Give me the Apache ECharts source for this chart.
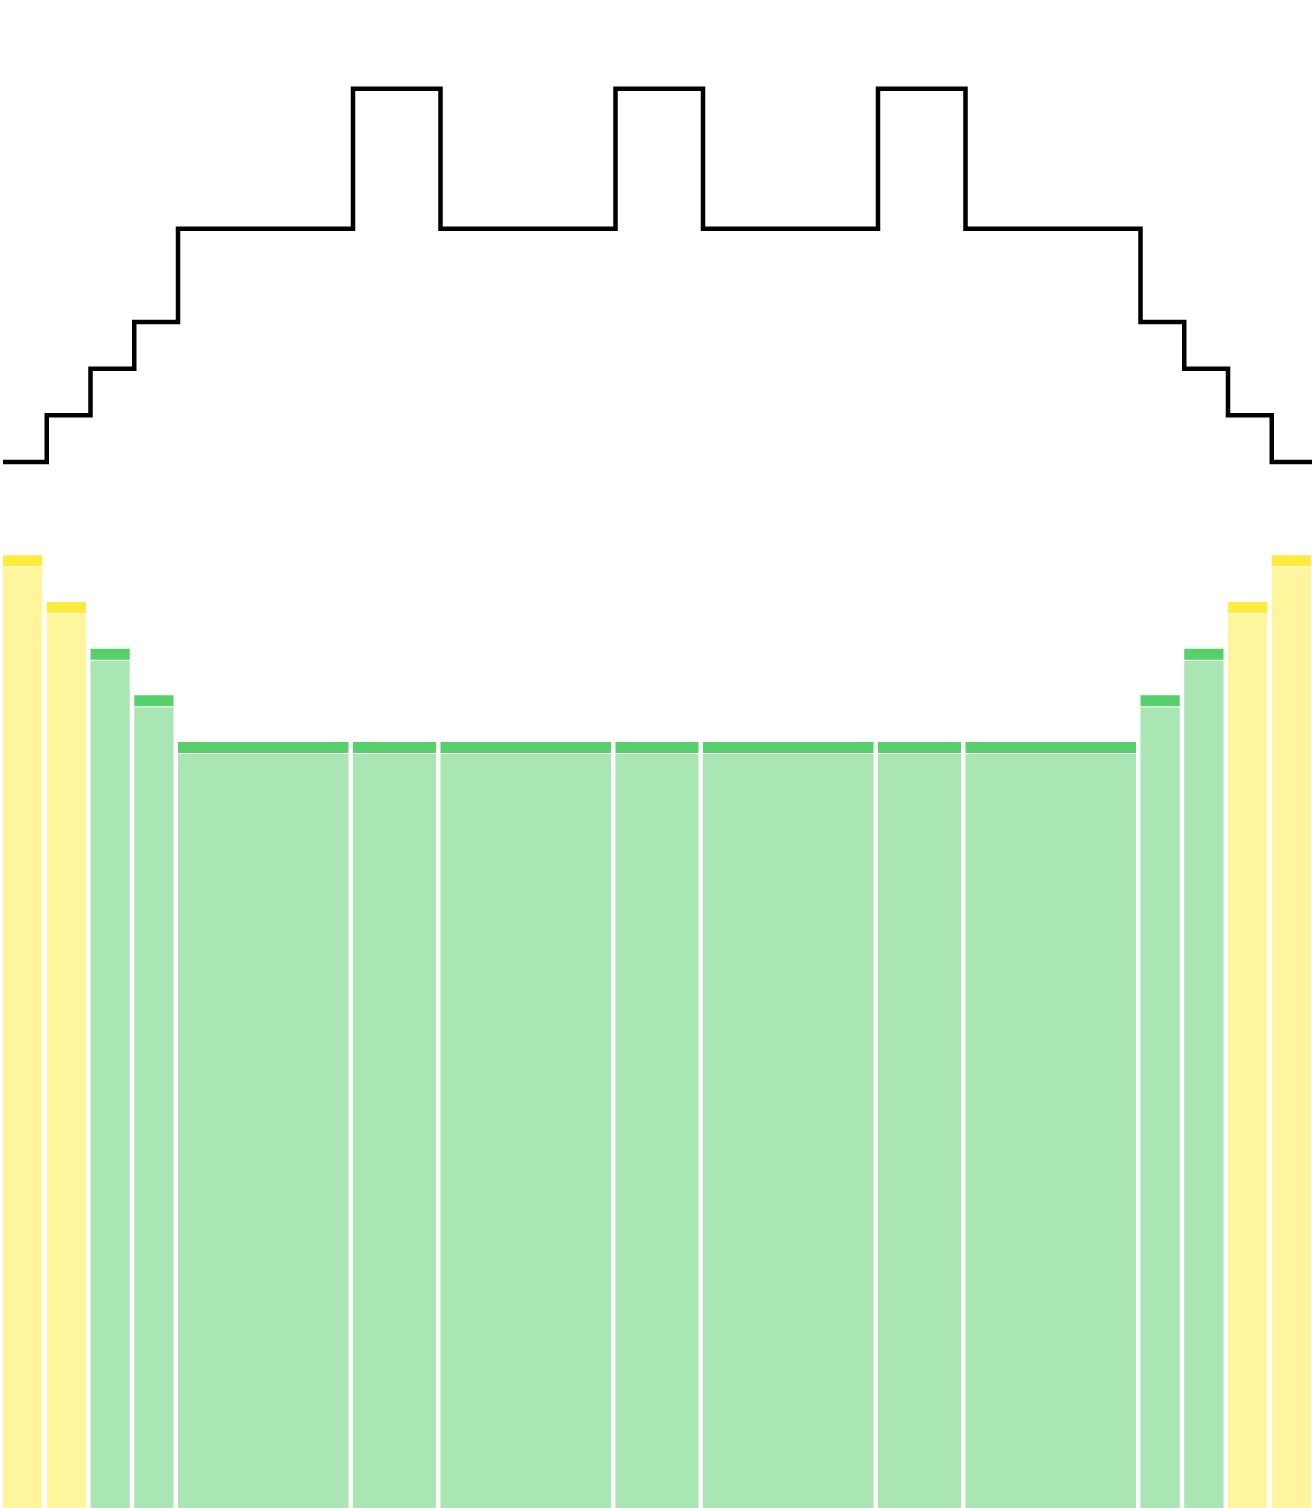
<!DOCTYPE html>
<html>
<head>
<meta charset="utf-8">
<script src="https://cdn.jsdelivr.net/npm/echarts@6/dist/echarts.min.js"></script>
<style>
html,body{margin:0;padding:0;background:#fff;overflow:hidden;}
#chart{width:1312px;height:1508px;}
</style>
</head>
<body>
<div id="chart"></div>
<script>
// Segment widths (in units along the x axis)
const widths = [1, 1, 1, 1, 4, 2, 4, 2, 4, 2, 4, 1, 1, 1, 1];
// Bar values
const barValues = [21, 20, 19, 18, 17, 17, 17, 17, 17, 17, 17, 18, 19, 20, 21];
// Step line values
const lineValues = [23, 24, 25, 26, 28, 31, 28, 31, 28, 31, 28, 26, 25, 24, 23];
// Bar groups (Y = yellow, G = green)
const groups = ['Y', 'Y', 'G', 'G', 'G', 'G', 'G', 'G', 'G', 'G', 'G', 'G', 'G', 'Y', 'Y'];

const palette = {
  Y: { band: '#ffeb3b', fill: '#fff59d' },
  G: { band: '#55d06b', fill: '#a9e6b4' }
};

// Build start/end positions from widths
const starts = [];
let acc = 0;
widths.forEach(w => { starts.push(acc); acc += w; });
const total = acc;

const barData = widths.map((w, i) => [starts[i], starts[i] + w, barValues[i], groups[i] === 'Y' ? 0 : 1]);
const lineData = lineValues.map((v, i) => [starts[i], v]);
lineData.push([total, lineValues[lineValues.length - 1]]);

const chart = echarts.init(document.getElementById('chart'));
chart.setOption({
  animation: false,
  grid: { left: 3, right: 0, top: 0, bottom: 0 },
  xAxis: { type: 'value', min: 0, max: 29.92, show: false },
  yAxis: { type: 'value', min: 0.585, max: 32.9, show: false },
  series: [
    {
      type: 'custom',
      data: barData,
      clip: false,
      renderItem: function (params, api) {
        const x0 = api.value(0), x1 = api.value(1), v = api.value(2);
        const g = api.value(3) === 0 ? 'Y' : 'G';
        const tl = api.coord([x0, v]);
        const br = api.coord([x1, 0]);
        const left = tl[0];
        const w = br[0] - tl[0] - 4.5;
        const top = tl[1];
        const bottom = br[1];
        return {
          type: 'group',
          children: [
            { type: 'rect', shape: { x: left, y: top, width: w, height: 11 }, style: { fill: palette[g].band } },
            { type: 'rect', shape: { x: left, y: top + 12, width: w, height: bottom - top - 12 }, style: { fill: palette[g].fill } }
          ]
        };
      }
    },
    {
      type: 'line',
      step: 'end',
      data: lineData,
      symbol: 'none',
      clip: false,
      lineStyle: { color: '#000', width: 4.5, join: 'miter', cap: 'butt' }
    }
  ]
});
</script>
</body>
</html>
